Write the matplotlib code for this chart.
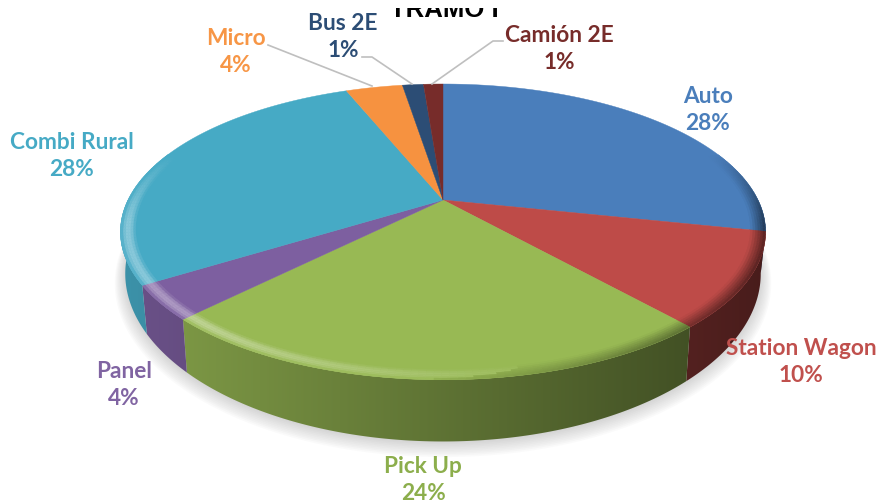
import numpy as np
from matplotlib import pyplot as plt
from matplotlib.patches import Rectangle, Polygon
import matplotlib.colors as mc

names = ['Auto', 'Station Wagon', 'Pick Up', 'Panel', 'Combi Rural', 'Micro', 'Bus 2E', 'Camión 2E']
values = [28.4, 10.2, 23.7, 3.7, 28.0, 3.5, 1.3, 1.2]
percents = ['28%', '10%', '24%', '4%', '28%', '4%', '1%', '1%']
colors = ['#4a7ebb', '#be4b48', '#98b954', '#7d5fa0', '#46aac5', '#f69240', '#2c4d75', '#772c2a']
text_colors = ['#4a7ebb', '#c0504d', '#8cae4c', '#8064a2', '#46aac5', '#f79646', '#2c4d75', '#772c2a']
title = 'TRAMO I'

# where the labels sit, in pixels
label_x = [708, 801, 423, 124, 72, 236, 343, 559]
label_y = [110, 362, 480, 385, 156, 52, 37, 49]

W, H = 881, 503
cx, cy = 443, 200
a, b, k = 315, 141, 0.2155
depth = 38

plt.rcParams['font.family'] = ['Lato', 'DejaVu Sans']
fig = plt.figure(figsize=(W / 100, H / 100), dpi=100)
ax = fig.add_axes([0, 0, 1, 1])


# circle on the table -> picture, with some perspective
def project(t, r=1.0, down=0.0):
    u = r * np.sin(t)
    v = r * np.cos(t)
    d = 1 + k * v
    x = cx + a * u / d * (1 - 0.015 * down)
    y = cy - b * v / d + down * depth / d**2
    return x, y


def shade(c, f):
    rgb = np.array(mc.to_rgb(c))
    if f <= 1:
        return tuple(rgb * f)
    return tuple(rgb + (1 - rgb) * (f - 1))


edges = np.cumsum([0] + values) / sum(values) * 2 * np.pi

# soft shadow under the pie
t = np.linspace(0, 2 * np.pi, 300)
for j in range(10):
    x, y = project(t, 1 + j * 0.0035, 1)
    ax.fill(x, y + 1 + j * 0.7, color='#808080', alpha=0.035, lw=0, zorder=1)

# side wall: one horizontal gradient per slice, clipped to the wall
grad_x = np.linspace(0, 1, 300)
for i in range(len(values)):
    ts = np.linspace(edges[i], edges[i + 1], 120)
    x0, y0 = project(ts)
    x1, y1 = project(ts[::-1], 1, 1)
    wall = Polygon(np.c_[np.r_[x0, x1], np.r_[y0, y1]], closed=True, transform=ax.transData,
                   facecolor='none', edgecolor='none')
    ax.add_patch(wall)
    f = 0.86 - 0.48 * grad_x
    rgb = np.array(mc.to_rgb(colors[i]))
    img = (rgb[None, None, :] * f[None, :, None])
    im = ax.imshow(img, extent=[120, 767, 460, 200], aspect='auto', interpolation='bilinear', zorder=2)
    im.set_clip_path(wall)

# top of the slices
for i in range(len(values)):
    ts = np.linspace(edges[i], edges[i + 1], 80)
    x, y = project(ts)
    ax.fill(np.r_[cx, x], np.r_[cy, y], color=colors[i], lw=0.3, zorder=3)

# rounded rim: highlight on the left, dark on the right
rings = np.linspace(0.955, 1.0, 7)
for i in range(len(values)):
    ts = np.append(np.arange(edges[i], edges[i + 1], 0.02), edges[i + 1])
    for t0, t1 in zip(ts[:-1], ts[1:]):
        tm = (t0 + t1) / 2
        weight = np.clip((0.35 - np.cos(tm)) / 0.5, 0, 1)
        if weight == 0:
            continue
        side = np.sin(tm)
        for j in range(len(rings) - 1):
            r0, r1 = rings[j], rings[j + 1]
            p = (j + 0.5) / (len(rings) - 1)
            bright = 0.13 * np.clip(0.35 - side, 0, 1) / 0.35 * np.sin(np.pi * p) * weight
            dark = 0.55 * np.clip(side + 0.1, 0, 1) * p * weight
            f = 1 + bright if bright > dark else 1 - dark
            xa, ya = project(np.array([t0, t1]), r0)
            xb, yb = project(np.array([t1, t0]), r1)
            ax.fill(np.r_[xa, xb], np.r_[ya, yb], color=shade(colors[i], f), lw=0.3, zorder=4)

# leader lines for the small slices
gray = '#bfbfbf'
ax.plot([268, 372], [45, 86], color=gray, lw=1.2, zorder=5)
ax.plot([362, 372, 412], [57, 57, 84], color=gray, lw=1.2, zorder=5)
ax.plot([503, 493, 432], [41, 41, 84], color=gray, lw=1.2, zorder=5)

for name, pct, x, y, c in zip(names, percents, label_x, label_y, text_colors):
    ax.text(x, y, name + '\n' + pct, color=c, fontsize=16.3, fontweight='bold',
            ha='center', va='center', linespacing=1.35, zorder=6)

# chart title, cut off by the crop
tt = ax.text(444, 17, title, color='black', fontsize=18.5, fontweight='bold',
             family=['Liberation Sans'], ha='center', va='baseline', zorder=6, clip_on=True)
tt.set_clip_path(Rectangle((0, 8), W, 20, transform=ax.transData))

ax.set_xlim(0, W)
ax.set_ylim(H, 0)
ax.axis('off')

fig.savefig('out.png', dpi=100)
